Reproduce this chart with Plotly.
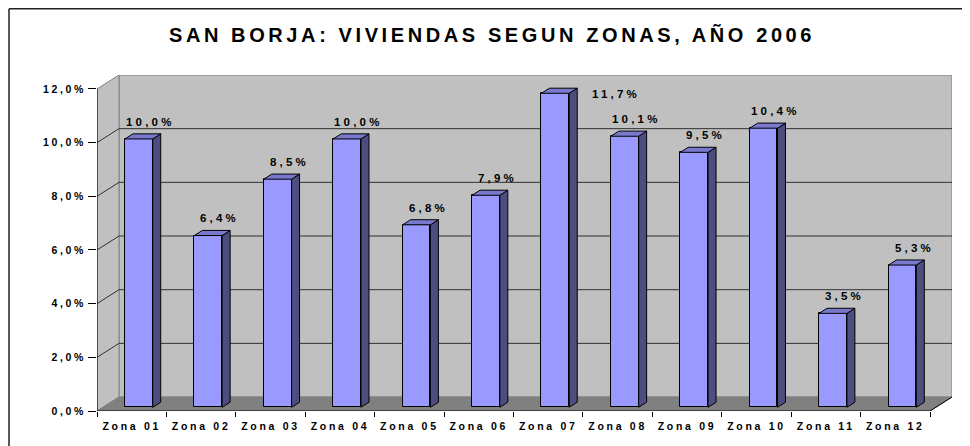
import plotly.graph_objects as go

# ---------------- data ----------------
zonas = ["Zona 01", "Zona 02", "Zona 03", "Zona 04", "Zona 05", "Zona 06",
         "Zona 07", "Zona 08", "Zona 09", "Zona 10", "Zona 11", "Zona 12"]
porcentajes = [10.0, 6.4, 8.5, 10.0, 6.8, 7.9, 11.7, 10.1, 9.5, 10.4, 3.5, 5.3]
y_ticks = [0, 2, 4, 6, 8, 10, 12]
titulo = "SAN BORJA: VIVIENDAS SEGUN ZONAS, AÑO 2006"

# ---------------- style / geometry ----------------
PAGE = 8                      # browser default body margin
WIN_W, WIN_H = 970, 446
W, H = WIN_W - PAGE, WIN_H - PAGE
M_L, M_R, M_T, M_B = 97 - PAGE, 18, 75 - PAGE, 35
PLOT_W, PLOT_H = W - M_L - M_R, H - M_T - M_B
FONT = "Liberation Sans"

N = len(zonas)
Y_MAX = max(y_ticks)
DEPTH_X, DEPTH_Y = 0.317, 0.52      # 3D depth of the chart box (data units)
BAR_OFF, BAR_W = -0.097, 0.40       # front face of bars
BAR_BASE = 0.138                    # front face bottom (depth position)
BAR_DX, BAR_DY = 0.115, 0.19        # depth of each bar
X_LO, X_HI = -0.5, N - 0.5

FRONT = "#9999FF"
SIDE = "#4D4D80"
TOP = "#7878CC"
WALL = "#C0C0C0"
FLOOR = "#808080"
EDGE = "#808080"
GRID = "#303030"


def pct(v):
    return f"{v:.1f}".replace(".", ",") + "%"


def spaced(t, px):
    return f'<span style="letter-spacing:{px}px"><b>{t}</b></span>'


idx = list(range(N))
fig = go.Figure()

# front faces
fig.add_trace(go.Bar(
    x=idx, y=porcentajes, base=BAR_BASE, width=BAR_W, offset=BAR_OFF,
    marker=dict(color=FRONT, line=dict(color="black", width=1)),
    hoverinfo="skip", showlegend=False,
))

# side and top faces built from the values
sx, sy, tx, ty = [], [], [], []
for i, v in zip(idx, porcentajes):
    xl = i + BAR_OFF
    xr = xl + BAR_W
    b, t = BAR_BASE, BAR_BASE + v
    sx += [xr, xr + BAR_DX, xr + BAR_DX, xr, xr, None]
    sy += [b, b + BAR_DY, t + BAR_DY, t, b, None]
    tx += [xl, xr, xr + BAR_DX, xl + BAR_DX, xl, None]
    ty += [t, t, t + BAR_DY, t + BAR_DY, t, None]

fig.add_trace(go.Scatter(x=sx, y=sy, mode="lines", fill="toself", fillcolor=SIDE,
                         line=dict(color="black", width=1), hoverinfo="skip",
                         showlegend=False))
fig.add_trace(go.Scatter(x=tx, y=ty, mode="lines", fill="toself", fillcolor=TOP,
                         line=dict(color="black", width=1), hoverinfo="skip",
                         showlegend=False))

# data labels
LABEL_ROOM = 0.69
annotations = []
for i, v in zip(idx, porcentajes):
    top_back = BAR_BASE + v + BAR_DY
    if top_back + LABEL_ROOM > Y_MAX + DEPTH_Y:
        annotations.append(dict(
            x=i + BAR_OFF + BAR_W + BAR_DX, y=BAR_BASE + v, xref="x", yref="y",
            text=spaced(pct(v), 3.2), showarrow=False, xanchor="left", yanchor="middle",
            xshift=13, yshift=-1, font=dict(family=FONT, size=11.5, color="black")))
    else:
        annotations.append(dict(
            x=i + 0.27, y=top_back, xref="x", yref="y",
            text=spaced(pct(v), 3.2), showarrow=False, xanchor="center", yanchor="bottom",
            yshift=4, font=dict(family=FONT, size=11.5, color="black")))

# chart box (walls, floor, grid)
shapes = []
bx0, bx1 = X_LO + DEPTH_X, X_HI + DEPTH_X
shapes.append(dict(type="rect", xref="x", yref="y", x0=bx0, x1=bx1,
                   y0=DEPTH_Y, y1=Y_MAX + DEPTH_Y, fillcolor=WALL,
                   line=dict(color=EDGE, width=1), layer="below"))
shapes.append(dict(type="path", xref="x", yref="y",
                   path=f"M {X_LO},0 L {X_LO},{Y_MAX} L {bx0},{Y_MAX + DEPTH_Y} L {bx0},{DEPTH_Y} Z",
                   fillcolor=WALL, line=dict(color=EDGE, width=1), layer="below"))
shapes.append(dict(type="path", xref="x", yref="y",
                   path=f"M {X_LO},0 L {X_HI},0 L {bx1},{DEPTH_Y} L {bx0},{DEPTH_Y} Z",
                   fillcolor=FLOOR, line=dict(color=EDGE, width=1), layer="below"))
for v in y_ticks[1:-1]:
    shapes.append(dict(type="path", xref="x", yref="y",
                       path=f"M {X_LO},{v} L {bx0},{v + DEPTH_Y} L {bx1},{v + DEPTH_Y}",
                       line=dict(color=GRID, width=1), layer="below"))
# axis lines
shapes.append(dict(type="line", xref="x", yref="y", x0=X_LO, x1=X_LO, y0=0, y1=Y_MAX,
                   line=dict(color="black", width=1)))
shapes.append(dict(type="line", xref="x", yref="y", x0=X_LO, x1=X_HI, y0=0, y1=0,
                   line=dict(color="black", width=1)))
shapes.append(dict(type="line", xref="x", yref="y", x0=X_HI, x1=bx1, y0=0, y1=DEPTH_Y,
                   line=dict(color="black", width=1)))
# outer chart border (left and top visible in the window)
bl = (9 - PAGE - M_L) / PLOT_W
bt = (H - M_B - (8 - PAGE) - 0.75) / PLOT_H
shapes.append(dict(type="line", xref="paper", yref="paper", x0=bl, x1=bl, y0=bt, y1=-0.2,
                   line=dict(color="#222222", width=1.5)))
shapes.append(dict(type="line", xref="paper", yref="paper", x0=bl, x1=1.1, y0=bt, y1=bt,
                   line=dict(color="#222222", width=1.5)))

fig.update_layout(
    width=W, height=H, autosize=False,
    margin=dict(l=M_L, r=M_R, t=M_T, b=M_B, pad=0),
    paper_bgcolor="white", plot_bgcolor="white",
    showlegend=False,
    title=dict(text=spaced(titulo, 3.6), xref="container", yref="container",
               x=(492 - PAGE) / W, y=1 - (35 - PAGE) / H, xanchor="center", yanchor="middle",
               font=dict(family=FONT, size=20, color="black")),
    xaxis=dict(range=[X_LO, X_HI + DEPTH_X], tickmode="array", tickvals=idx,
               ticktext=[spaced(z, 2.7) for z in zonas], ticks="",
               showline=False, showgrid=False, zeroline=False,
               ticklabelstandoff=7,
               tickfont=dict(family=FONT, size=10.5, color="black"),
               minor=dict(tickmode="array", tickvals=[X_LO + k for k in range(N + 1)],
                          ticks="outside", ticklen=5, tickcolor="black", showgrid=False)),
    yaxis=dict(range=[0, Y_MAX + DEPTH_Y], tickmode="array", tickvals=y_ticks,
               ticktext=[spaced(pct(v), 2.6) for v in y_ticks],
               ticks="outside", ticklen=8, tickcolor="black",
               showline=False, showgrid=False, zeroline=False,
               tickfont=dict(family=FONT, size=10.5, color="black")),
    annotations=annotations,
    shapes=shapes,
    bargap=0,
)

fig.write_html("out.html")
